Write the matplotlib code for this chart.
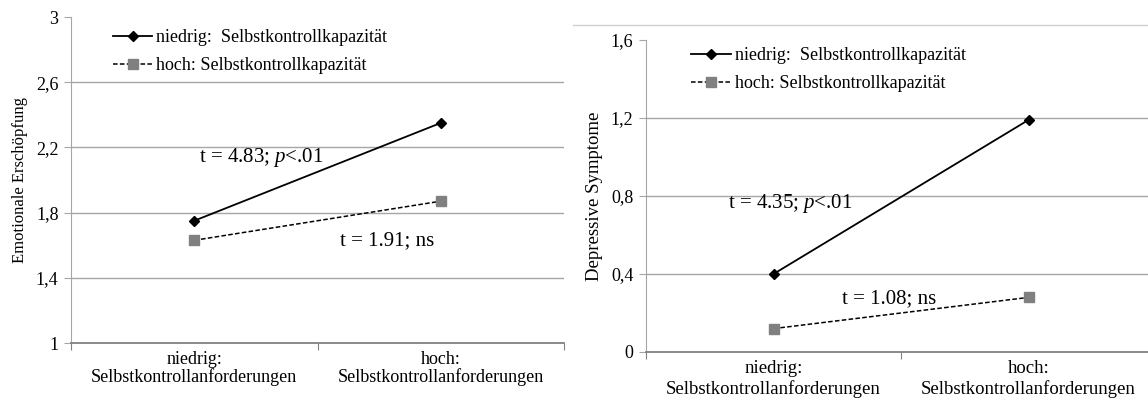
import matplotlib
matplotlib.use("Agg")
import matplotlib.pyplot as plt
from matplotlib.lines import Line2D

plt.rcParams["font.family"] = ["Liberation Serif", "DejaVu Serif"]
plt.rcParams["mathtext.fontset"] = "custom"
plt.rcParams["mathtext.it"] = "Liberation Serif:italic"
plt.rcParams["mathtext.rm"] = "Liberation Serif"

categories = ["niedrig:\nSelbstkontrollanforderungen", "hoch:\nSelbstkontrollanforderungen"]
series_names = ["niedrig:  Selbstkontrollkapazität", "hoch: Selbstkontrollkapazität"]

# Emotionale Erschöpfung
ee_niedrig = [1.75, 2.35]
ee_hoch = [1.63, 1.87]
# Depressive Symptome
ds_niedrig = [0.40, 1.19]
ds_hoch = [0.12, 0.28]

W, H = 1148, 403
fig = plt.figure(figsize=(W / 100, H / 100), dpi=100)


def px(x0, y0, x1, y1):
    return [x0 / W, 1 - y1 / H, (x1 - x0) / W, (y1 - y0) / H]


def panel(rect, low, high, ylim, yticks, ylabel, ylsize, xlsize, xlspace,
          t1, t1pos, t2, t2pos, legpos):
    ax = fig.add_axes(rect)
    ax.set_xlim(-0.5, 1.5)
    ax.set_ylim(*ylim)
    for y in yticks[1:-1]:
        ax.axhline(y, color="#a6a6a6", lw=1, zorder=0)
    ax.plot([0, 1], low, color="black", lw=1.3, marker="D", ms=5, mfc="black", mec="black")
    ax.plot([0, 1], high, color="black", lw=1.1, ls=(0, (3, 1.5)), marker="s", ms=7,
            mfc="#808080", mec="#808080")
    ax.set_yticks(yticks)
    ax.set_yticklabels([f"{v:g}".replace(".", ",") for v in yticks], fontsize=13)
    ax.set_xticks([-0.5, 0.5, 1.5])
    ax.set_xticklabels([])
    ax.set_xticks([0, 1], minor=True)
    ax.set_xticklabels(categories, minor=True, fontsize=xlsize, linespacing=xlspace)
    ax.tick_params(axis="x", which="minor", length=0, pad=6)
    ax.tick_params(axis="x", which="major", length=5, color="#808080")
    ax.tick_params(axis="y", length=5, color="#a6a6a6", pad=4)
    for s in ["top", "right"]:
        ax.spines[s].set_visible(False)
    ax.spines["left"].set_color("#a6a6a6")
    ax.spines["bottom"].set_color("#808080")
    ax.spines["bottom"].set_linewidth(1.3)
    ax.set_ylabel(ylabel, fontsize=ylsize, labelpad=6)
    ax.text(*t1pos, t1, fontsize=15, va="center")
    ax.text(*t2pos, t2, fontsize=15, va="center")
    handles = [
        Line2D([], [], color="black", lw=1.3, marker="D", ms=5),
        Line2D([], [], color="black", lw=1.1, ls=(0, (3, 1.5)), marker="s", ms=7,
               mfc="#808080", mec="#808080"),
    ]
    ax.legend(handles, series_names, loc="upper left", bbox_to_anchor=legpos, frameon=False,
              fontsize=13, handlelength=2.2, handletextpad=0.2, labelspacing=0.6,
              borderaxespad=0)
    return ax


panel(px(71, 17, 564, 343), ee_niedrig, ee_hoch, (1, 3), [1, 1.4, 1.8, 2.2, 2.6, 3],
      "Emotionale Erschöpfung", 12, 13, 1.0,
      r"t = 4.83; $\it{p}$<.01", (0.02, 2.14), "t = 1.91; ns", (0.59, 1.63), (0.07, 0.985))
panel(px(646, 40, 1156, 352), ds_niedrig, ds_hoch, (0, 1.6), [0, 0.4, 0.8, 1.2, 1.6],
      "Depressive Symptome", 13.5, 13.5, 1.2,
      r"t = 4.35; $\it{p}$<.01", (-0.18, 0.76), "t = 1.08; ns", (0.27, 0.275), (0.075, 1.0))

fig.add_artist(Line2D([573 / W, 1.0], [1 - 25 / H, 1 - 25 / H], color="#d0d0d0", lw=1))

fig.savefig("out.png", dpi=100)
